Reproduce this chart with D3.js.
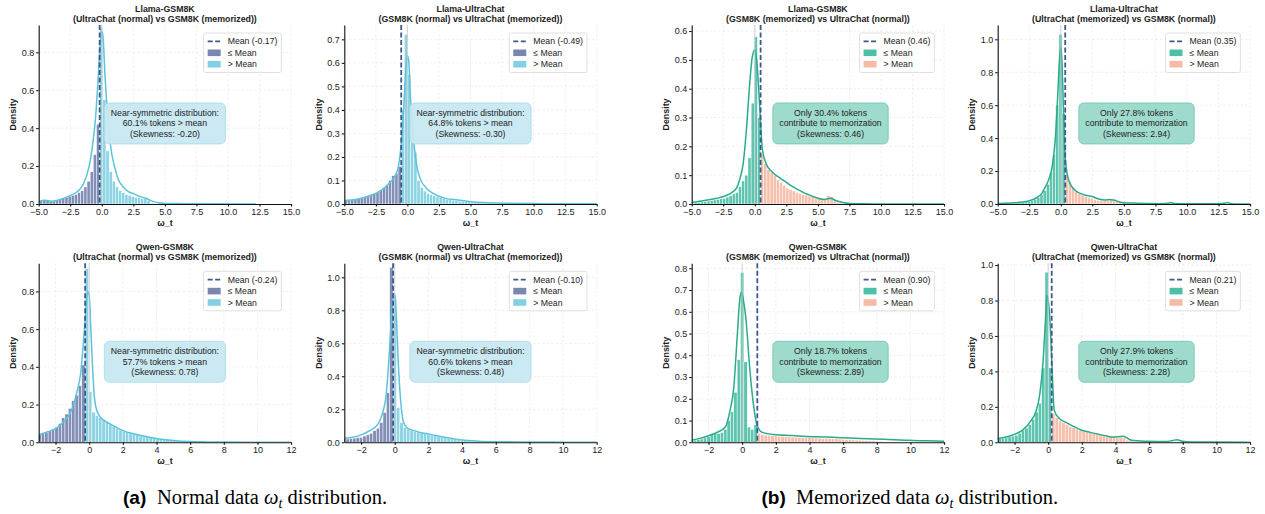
<!DOCTYPE html>
<html>
<head>
<meta charset="utf-8">
<script src="https://d3js.org/d3.v7.min.js"></script>
<style>
  body { margin: 0; background: #fff; }
  text { font-family: "Liberation Sans", Arial, sans-serif; fill: #222; }
  .tick text { font-size: 9px; fill: #222; }
  .caption { font-family: "Liberation Serif", "Times New Roman", serif; font-size: 20.5px; fill: #000; }
</style>
</head>
<body>
<div id="chart"></div>
<script>
// ---- data ----
const titles = ['Llama-GSM8K', 'Llama-UltraChat', 'Llama-GSM8K', 'Llama-UltraChat',
                'Qwen-GSM8K', 'Qwen-UltraChat', 'Qwen-GSM8K', 'Qwen-UltraChat'];
const subtitles = [
  '(UltraChat (normal) vs GSM8K (memorized))',
  '(GSM8K (normal) vs UltraChat (memorized))',
  '(GSM8K (memorized) vs UltraChat (normal))',
  '(UltraChat (memorized) vs GSM8K (normal))',
  '(UltraChat (normal) vs GSM8K (memorized))',
  '(GSM8K (normal) vs UltraChat (memorized))',
  '(GSM8K (memorized) vs UltraChat (normal))',
  '(UltraChat (memorized) vs GSM8K (normal))'
];
const kinds = ['normal', 'normal', 'memorized', 'memorized', 'normal', 'normal', 'memorized', 'memorized'];
const means = [-0.17, -0.49, 0.46, 0.35, -0.24, -0.10, 0.90, 0.21];
const skewness = [-0.20, -0.30, 0.46, 2.94, 0.78, 0.48, 2.89, 2.28];
const aboveMeanPct = [60.1, 64.8, 30.4, 27.8, 57.7, 60.6, 18.7, 27.9];

// histogram bins: first left edge and bin width per panel
const binStarts = [-4.92, -4.99, -4.79, -4.9, -3.04, -3.1, -3.1, -2.99];
const binWidths = [0.25, 0.25, 0.25, 0.25, 0.2, 0.2, 0.2, 0.2];

const hist1 = [0.02, 0.02, 0.02, 0.015, 0.015, 0.02, 0.025, 0.03, 0.035, 0.04, 0.045, 0.05, 0.06, 0.07, 0.09, 0.12, 0.17, 0.26, 0.42,
  0.93, 0.55, 0.28, 0.17, 0.12, 0.09, 0.07, 0.06, 0.05, 0.045, 0.04, 0.035, 0.035, 0.03, 0.03, 0.02, 0.005, 0.003, 0.002, 0.002, 0.002, 0.001, 0.001, 0.001, 0.001];
const hist2 = [0.015, 0.016, 0.018, 0.02, 0.022, 0.025, 0.03, 0.035, 0.04, 0.045, 0.05, 0.06, 0.07, 0.08, 0.1, 0.12, 0.13, 0.16,
  0.4, 0.72, 0.55, 0.3, 0.22, 0.1, 0.07, 0.055, 0.045, 0.04, 0.035, 0.03, 0.027, 0.024, 0.02, 0.018, 0.016, 0.014, 0.012, 0.011, 0.01, 0.009, 0.008, 0.007, 0.006, 0.005, 0.004, 0.004, 0.003, 0.003, 0.003, 0.002, 0.002, 0.002];
const hist3 = [0.005, 0.006, 0.007, 0.008, 0.01, 0.012, 0.014, 0.016, 0.018, 0.02, 0.024, 0.028, 0.035, 0.04, 0.06, 0.08, 0.1, 0.16, 0.35, 0.58, 0.3,
  0.17, 0.14, 0.12, 0.11, 0.1, 0.085, 0.075, 0.065, 0.055, 0.05, 0.045, 0.04, 0.037, 0.033, 0.03, 0.027, 0.024, 0.02, 0.018, 0.015, 0.015, 0.03, 0.025, 0.01, 0.006, 0.004, 0.003, 0.002];
const hist4 = [0.002, 0.003, 0.003, 0.004, 0.005, 0.006, 0.008, 0.01, 0.012, 0.015, 0.02, 0.028, 0.04, 0.055, 0.08, 0.12, 0.19, 0.3, 0.6, 1.03, 0.55,
  0.18, 0.13, 0.1, 0.08, 0.065, 0.055, 0.045, 0.04, 0.035, 0.028, 0.022, 0.02, 0.02, 0.022, 0.028, 0.025, 0.018, 0.012, 0.008, 0.006, 0.005, 0.005, 0.004, 0.004, 0.003, 0.003, 0.003, 0.002, 0.002, 0.002, 0.002, 0.002, 0.003, 0.008, 0.002];
const hist5 = [0.04, 0.045, 0.05, 0.06, 0.07, 0.08, 0.1, 0.13, 0.15, 0.18, 0.22, 0.25, 0.3, 0.41,
  0.92, 0.27, 0.16, 0.14, 0.13, 0.12, 0.11, 0.095, 0.085, 0.075, 0.065, 0.057, 0.052, 0.048, 0.044, 0.04, 0.037, 0.033, 0.03, 0.027, 0.023, 0.02, 0.018, 0.016, 0.014, 0.011, 0.009, 0.008, 0.007, 0.006, 0.005, 0.004, 0.003, 0.003, 0.002, 0.002];
const hist6 = [0.02, 0.02, 0.022, 0.025, 0.028, 0.03, 0.038, 0.045, 0.055, 0.07, 0.085, 0.12, 0.18, 0.3, 1.06,
  0.89, 0.21, 0.12, 0.09, 0.08, 0.07, 0.065, 0.06, 0.055, 0.052, 0.048, 0.044, 0.04, 0.036, 0.032, 0.028, 0.025, 0.022, 0.019, 0.016, 0.013, 0.01, 0.008, 0.007, 0.006, 0.005, 0.004, 0.004, 0.003, 0.003, 0.002];
const hist7 = [0.01, 0.01, 0.012, 0.015, 0.02, 0.025, 0.04, 0.04, 0.04, 0.045, 0.06, 0.1, 0.14, 0.23, 0.38, 0.78, 0.37, 0.07, 0.06, 0.08,
  0.04, 0.036, 0.033, 0.031, 0.03, 0.029, 0.028, 0.027, 0.026, 0.025, 0.024, 0.024, 0.023, 0.022, 0.022, 0.021, 0.02, 0.02, 0.019, 0.018, 0.018, 0.017, 0.016, 0.016, 0.015, 0.014, 0.013, 0.012, 0.011, 0.01, 0.01, 0.009, 0.008, 0.007, 0.006, 0.005, 0.004, 0.003];
const hist8 = [0.02, 0.022, 0.025, 0.03, 0.035, 0.04, 0.05, 0.065, 0.08, 0.1, 0.13, 0.17, 0.22, 0.42, 0.96, 0.42,
  0.16, 0.14, 0.12, 0.11, 0.1, 0.09, 0.082, 0.075, 0.068, 0.063, 0.058, 0.054, 0.05, 0.046, 0.042, 0.038, 0.034, 0.031, 0.028, 0.026, 0.028, 0.025, 0.012, 0.008, 0.006, 0.005, 0.004, 0.003, 0.003];

// KDE curves as [x, density] pairs
const kde1 = [[-5, 0.012], [-4.6, 0.02], [-4.3, 0.018], [-4, 0.015], [-3.5, 0.02], [-3, 0.03], [-2.5, 0.045], [-2, 0.062], [-1.5, 0.1], [-1, 0.2], [-0.75, 0.3], [-0.5, 0.45], [-0.3, 0.65], [-0.1, 0.87], [0, 0.91],
  [0.1, 0.88], [0.25, 0.68], [0.4, 0.52], [0.6, 0.36], [0.8, 0.26], [1, 0.2], [1.3, 0.13], [1.7, 0.09], [2.1, 0.065], [2.5, 0.055], [3, 0.04], [3.5, 0.03], [4, 0.015], [4.5, 0.006], [5, 0.003], [6, 0.002], [8, 0.001], [12.2, 0]];
const kde2 = [[-5, 0.015], [-4, 0.02], [-3, 0.035], [-2.5, 0.045], [-2, 0.06], [-1.5, 0.085], [-1, 0.117], [-0.75, 0.15], [-0.5, 0.25], [-0.3, 0.4], [-0.1, 0.59], [0, 0.63], [0.1, 0.61], [0.25, 0.45],
  [0.5, 0.27], [0.75, 0.16], [1, 0.11], [1.5, 0.067], [2, 0.046], [3, 0.024], [4, 0.017], [5, 0.01], [6, 0.006], [7, 0.004], [8, 0.003], [10, 0.002], [12, 0.001], [15, 0.001]];
const kde3 = [[-5, 0.005], [-4, 0.012], [-3, 0.02], [-2.5, 0.026], [-2, 0.035], [-1.45, 0.055], [-1.2, 0.085], [-0.92, 0.14], [-0.66, 0.26], [-0.4, 0.42], [-0.2, 0.51], [0, 0.535], [0.15, 0.5], [0.4, 0.33],
  [0.6, 0.19], [0.9, 0.14], [1.4, 0.11], [2, 0.09], [2.5, 0.075], [3, 0.06], [3.5, 0.048], [4, 0.037], [4.5, 0.028], [5, 0.02], [5.5, 0.016], [6, 0.02], [6.4, 0.012], [7, 0.005], [7.5, 0.002], [8.5, 0.001], [10, 0], [15, 0]];
const kde4 = [[-5, 0.003], [-4, 0.006], [-3, 0.012], [-2.5, 0.02], [-2, 0.035], [-1.5, 0.065], [-1.25, 0.1], [-1, 0.14], [-0.7, 0.22], [-0.45, 0.38], [-0.25, 0.65], [-0.1, 0.88], [0, 0.95], [0.1, 0.85],
  [0.2, 0.6], [0.3, 0.35], [0.45, 0.21], [0.6, 0.15], [1.1, 0.085], [1.9, 0.055], [2.5, 0.045], [3, 0.03], [3.5, 0.024], [3.9, 0.028], [4.2, 0.024], [4.6, 0.014], [5, 0.008], [6, 0.005], [7, 0.003], [8, 0.002],
  [8.5, 0.004], [8.7, 0.009], [9, 0.003], [10, 0.001], [12.5, 0.001], [13, 0.004], [13.2, 0.009], [13.5, 0.002], [14, 0], [15, 0]];
const kde5 = [[-3, 0.04], [-2.5, 0.055], [-2, 0.072], [-1.5, 0.11], [-1, 0.18], [-0.75, 0.26], [-0.5, 0.37], [-0.35, 0.52], [-0.2, 0.7], [-0.1, 0.8], [0, 0.78], [0.1, 0.6], [0.2, 0.4], [0.3, 0.25],
  [0.45, 0.17], [0.7, 0.13], [1, 0.11], [1.5, 0.085], [2, 0.062], [2.5, 0.048], [3, 0.038], [3.5, 0.028], [4, 0.02], [5, 0.01], [6, 0.004], [7, 0.002], [8, 0.001], [12, 0]];
const kde6 = [[-3, 0.025], [-2.5, 0.03], [-2, 0.045], [-1.5, 0.07], [-1, 0.11], [-0.75, 0.17], [-0.5, 0.3], [-0.35, 0.5], [-0.2, 0.75], [-0.08, 0.9], [0, 0.9], [0.1, 0.75], [0.2, 0.5], [0.35, 0.25],
  [0.5, 0.13], [0.7, 0.09], [1, 0.075], [1.5, 0.06], [2, 0.05], [2.5, 0.04], [3, 0.03], [3.5, 0.022], [4, 0.014], [5, 0.007], [6, 0.004], [8, 0.002], [10, 0.001], [12, 0]];
const kde7 = [[-3, 0.01], [-2.5, 0.018], [-2, 0.03], [-1.5, 0.045], [-1, 0.07], [-0.74, 0.14], [-0.5, 0.25], [-0.3, 0.48], [-0.14, 0.66], [-0.04, 0.69], [0.1, 0.64], [0.22, 0.57], [0.46, 0.33],
  [0.66, 0.18], [0.86, 0.085], [1.16, 0.047], [1.86, 0.036], [3, 0.031], [3.86, 0.027], [5, 0.024], [5.86, 0.021], [7, 0.018], [7.86, 0.015], [9, 0.012], [9.86, 0.009], [11, 0.007], [12, 0.005]];
const kde8 = [[-3, 0.022], [-2.5, 0.03], [-2, 0.045], [-1.5, 0.07], [-1, 0.125], [-0.74, 0.17], [-0.5, 0.27], [-0.3, 0.46], [-0.14, 0.73], [-0.08, 0.83], [0.06, 0.75], [0.16, 0.58], [0.26, 0.35],
  [0.36, 0.18], [0.66, 0.134], [1, 0.115], [1.5, 0.09], [2, 0.068], [2.5, 0.056], [3, 0.045], [3.5, 0.035], [3.8, 0.03], [4.46, 0.034], [4.96, 0.011], [5.86, 0.006], [7, 0.004], [7.4, 0.01],
  [7.66, 0.015], [7.96, 0.006], [8.5, 0.002], [10, 0.001], [12, 0]];

const hists = [hist1, hist2, hist3, hist4, hist5, hist6, hist7, hist8];
const kdes = [kde1, kde2, kde3, kde4, kde5, kde6, kde7, kde8];

// axes ranges and ticks
const xDomainTop = [-5, 15];
const xDomainBottom = [-3, 12];
const xTicksTop = [-5, -2.5, 0, 2.5, 5, 7.5, 10, 12.5, 15];
const xTicksBottom = [-2, 0, 2, 4, 6, 8, 10, 12];
const yMaxes = [0.944, 0.761, 0.621, 1.087, 0.949, 1.085, 0.823, 1.01];
const yTicks = [
  [0, 0.2, 0.4, 0.6, 0.8],
  [0, 0.1, 0.2, 0.3, 0.4, 0.5, 0.6, 0.7],
  [0, 0.1, 0.2, 0.3, 0.4, 0.5, 0.6],
  [0, 0.2, 0.4, 0.6, 0.8, 1.0],
  [0, 0.2, 0.4, 0.6, 0.8],
  [0, 0.2, 0.4, 0.6, 0.8, 1.0],
  [0, 0.1, 0.2, 0.3, 0.4, 0.5, 0.6, 0.7, 0.8],
  [0, 0.2, 0.4, 0.6, 0.8, 1.0]
];

// ---- styling / layout ----
const palette = {
  normal: { low: '#7886b0', high: '#82d0e2', line: '#5bc4da', boxFill: '#c7e8f1', boxStroke: '#a6dbe8', anchor: 0.5 },
  memorized: { low: '#4fc0a8', high: '#f5bba5', line: '#2aab8b', boxFill: '#9ad9ca', boxStroke: '#6cc6b1', anchor: 0.55 }
};
const meanColor = '#3d5a8e';
const colLeft = [38.7, 344.3, 691.7, 997.7];
const rowTop = [25, 263.3];
const plotW = 252.4;
const plotH = 179;

const svg = d3.select('#chart').append('svg')
    .attr('width', 1265)
    .attr('height', 514);

titles.forEach((title, i) => {
    const row = Math.floor(i / 4), col = i % 4;
    const kind = palette[kinds[i]];
    const g = svg.append('g')
        .attr('transform', `translate(${colLeft[col]},${rowTop[row]})`);

    const x = d3.scaleLinear()
        .domain(row === 0 ? xDomainTop : xDomainBottom)
        .range([0, plotW]);
    const y = d3.scaleLinear()
        .domain([0, yMaxes[i]])
        .range([plotH, 0]);
    const xt = row === 0 ? xTicksTop : xTicksBottom;

    // clip
    const clipId = `clip-${i}`;
    g.append('clipPath').attr('id', clipId)
        .append('rect').attr('width', plotW).attr('height', plotH);

    // grid
    const grid = g.append('g').attr('class', 'grid');
    grid.selectAll('.gx').data(xt).join('line')
        .attr('x1', d => x(d)).attr('x2', d => x(d))
        .attr('y1', 0).attr('y2', plotH)
        .attr('stroke', '#e4e4e4').attr('stroke-width', 0.6).attr('stroke-dasharray', '2.5,2');
    grid.selectAll('.gy').data(yTicks[i].slice(1)).join('line')
        .attr('x1', 0).attr('x2', plotW)
        .attr('y1', d => y(d)).attr('y2', d => y(d))
        .attr('stroke', '#e4e4e4').attr('stroke-width', 0.6).attr('stroke-dasharray', '2.5,2');

    const inner = g.append('g').attr('clip-path', `url(#${clipId})`);

    // histogram bars
    const bins = hists[i].map((h, k) => ({
        x0: binStarts[i] + k * binWidths[i],
        x1: binStarts[i] + (k + 1) * binWidths[i],
        h: h
    }));
    inner.selectAll('.bar').data(bins).join('rect')
        .attr('class', 'bar')
        .attr('x', d => x(d.x0))
        .attr('width', d => Math.max(0, x(d.x1) - x(d.x0)))
        .attr('y', d => y(d.h))
        .attr('height', d => plotH - y(d.h))
        .attr('fill', d => d.x0 >= means[i] - 1e-6 ? kind.high : kind.low)
        .attr('fill-opacity', 0.92)
        .attr('stroke', '#fff')
        .attr('stroke-width', 0.45);

    // kde
    const line = d3.line()
        .x(d => x(d[0]))
        .y(d => y(d[1]))
        .curve(d3.curveMonotoneX);
    inner.append('path')
        .datum(kdes[i])
        .attr('d', line)
        .attr('fill', 'none')
        .attr('stroke', kind.line)
        .attr('stroke-width', 1.5);

    // zero reference line
    g.append('line')
        .attr('x1', x(0)).attr('x2', x(0))
        .attr('y1', 0).attr('y2', plotH)
        .attr('stroke', '#c8c8c8').attr('stroke-opacity', 0.8).attr('stroke-width', 1);

    // mean line
    g.append('line')
        .attr('x1', x(means[i])).attr('x2', x(means[i]))
        .attr('y1', 0).attr('y2', plotH)
        .attr('stroke', meanColor).attr('stroke-width', 1.8)
        .attr('stroke-dasharray', '5,2.5');

    // axes
    g.append('g')
        .attr('transform', `translate(0,${plotH})`)
        .call(d3.axisBottom(x).tickValues(xt)
            .tickFormat(row === 0 ? d3.format('.1f') : d3.format('d'))
            .tickSize(2.5).tickSizeOuter(0).tickPadding(2))
        .call(a => a.select('.domain').attr('stroke', '#111').attr('stroke-width', 1.1));
    g.append('g')
        .call(d3.axisLeft(y).tickValues(yTicks[i]).tickFormat(d3.format('.1f'))
            .tickSize(2.5).tickSizeOuter(0).tickPadding(2))
        .call(a => a.select('.domain').attr('stroke', '#111').attr('stroke-width', 1.1));

    // axis labels
    g.append('text')
        .attr('x', plotW / 2).attr('y', plotH + 21.5)
        .attr('text-anchor', 'middle')
        .style('font-size', '8.9px').style('font-weight', 'bold')
        .text('ω_t');
    g.append('text')
        .attr('transform', `translate(${-22.5},${plotH / 2}) rotate(-90)`)
        .attr('text-anchor', 'middle')
        .style('font-size', '8.9px').style('font-weight', 'bold')
        .text('Density');

    // titles
    g.append('text')
        .attr('x', plotW / 2).attr('y', -13.2)
        .attr('text-anchor', 'middle')
        .style('font-size', '8.8px').style('font-weight', 'bold')
        .text(title);
    g.append('text')
        .attr('x', plotW / 2).attr('y', -3.2)
        .attr('text-anchor', 'middle')
        .style('font-size', '8.8px').style('font-weight', 'bold')
        .text(subtitles[i]);

    // legend
    const leg = g.append('g');
    const legBox = leg.append('rect')
        .attr('rx', 2).attr('ry', 2)
        .attr('fill', '#fff').attr('fill-opacity', 0.85)
        .attr('stroke', '#d8d8d8').attr('stroke-width', 0.8);
    const labels = [`Mean (${means[i].toFixed(2)})`, '≤ Mean', '> Mean'];
    const rowsY = [8.4, 19.8, 31.2];
    let maxW = 0;
    labels.forEach((lab, r) => {
        const t = leg.append('text')
            .attr('x', 24).attr('y', rowsY[r])
            .attr('dy', '0.35em')
            .style('font-size', '8.7px')
            .text(lab);
        maxW = Math.max(maxW, t.node().getComputedTextLength());
    });
    leg.append('line')
        .attr('x1', 4).attr('x2', 17).attr('y1', rowsY[0]).attr('y2', rowsY[0])
        .attr('stroke', meanColor).attr('stroke-width', 1.8).attr('stroke-dasharray', '5,2.5');
    leg.append('rect').attr('x', 4).attr('y', rowsY[1] - 3.3).attr('width', 13).attr('height', 6.6)
        .attr('fill', kind.low);
    leg.append('rect').attr('x', 4).attr('y', rowsY[2] - 3.3).attr('width', 13).attr('height', 6.6)
        .attr('fill', kind.high);
    const legW = 24 + maxW + 4;
    legBox.attr('width', legW).attr('height', 39.5);
    leg.attr('transform', `translate(${plotW - 9.7 - legW},8)`);

    // annotation box
    const ann = g.append('g')
        .attr('transform', `translate(${kind.anchor * plotW},${plotH * 0.55})`);
    const annBox = ann.append('rect')
        .attr('rx', 5).attr('ry', 5)
        .attr('fill', kind.boxFill).attr('fill-opacity', 0.95)
        .attr('stroke', kind.boxStroke).attr('stroke-width', 0.8);
    const annLines = kinds[i] === 'normal'
        ? ['Near-symmetric distribution:', `${aboveMeanPct[i].toFixed(1)}% tokens > mean`, `(Skewness: ${skewness[i].toFixed(2)})`]
        : [`Only ${aboveMeanPct[i].toFixed(1)}% tokens`, 'contribute to memorization', `(Skewness: ${skewness[i].toFixed(2)})`];
    let annW = 0;
    annLines.forEach((s, r) => {
        const t = ann.append('text')
            .attr('x', 0).attr('y', (r - 1) * 10.6)
            .attr('dy', '0.35em')
            .attr('text-anchor', 'middle')
            .style('font-size', '8.7px')
            .text(s);
        annW = Math.max(annW, t.node().getComputedTextLength());
    });
    annBox.attr('x', -(annW + 13) / 2).attr('y', -20.5)
        .attr('width', annW + 13).attr('height', 41);
});

// sub-figure captions
const captions = [
    { tag: '(a)', text: 'Normal data ', tagX: 123, textX: 157 },
    { tag: '(b)', text: 'Memorized data ', tagX: 761.5, textX: 796 }
];
captions.forEach(c => {
    svg.append('text')
        .attr('x', c.tagX).attr('y', 503.5)
        .style('font-size', '19px').style('font-weight', 'bold').style('fill', '#000')
        .text(c.tag);
    const t = svg.append('text')
        .attr('class', 'caption')
        .attr('x', c.textX).attr('y', 503.5);
    t.append('tspan').text(c.text);
    t.append('tspan').style('font-style', 'italic').text('ω');
    t.append('tspan').style('font-style', 'italic').style('font-size', '14px').attr('dy', 4).text('t');
    t.append('tspan').attr('dy', -4).text(' distribution.');
});
</script>
</body>
</html>
